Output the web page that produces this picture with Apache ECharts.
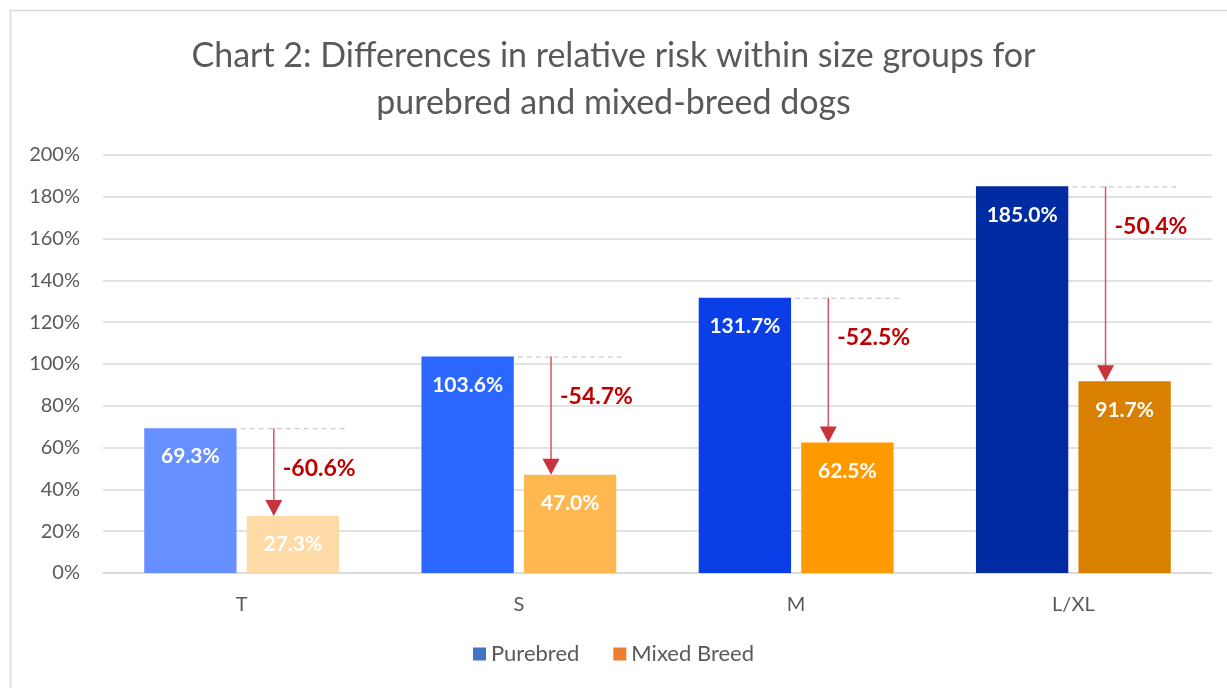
<!DOCTYPE html>
<html>
<head>
<meta charset="utf-8">
<script src="https://cdn.jsdelivr.net/npm/echarts@6/dist/echarts.min.js"></script>
<style>
  html, body { margin: 0; padding: 0; background: #fff; }
  #chart { width: 1227px; height: 688px; }
</style>
</head>
<body>
<div id="chart"></div>
<script>
// chart data
const categories = ['T', 'S', 'M', 'L/XL'];
const purebred = [69.3, 103.6, 131.7, 185.0];
const mixedBreed = [27.3, 47.0, 62.5, 91.7];
const changeLabels = ['-60.6%', '-54.7%', '-52.5%', '-50.4%'];
const yTicks = [0, 20, 40, 60, 80, 100, 120, 140, 160, 180, 200];

// per-bar shades
const pureColors = ['#6690FF', '#2B66FF', '#0A3EE6', '#002BA3'];
const mixedColors = ['#FDDAA6', '#FFB74F', '#FF9900', '#D98000'];

const font = 'Lato, "Open Sans", sans-serif';
const chart = echarts.init(document.getElementById('chart'));

function renderDrop(params, api) {
  const i = api.value(0);
  const top = api.coord([i, api.value(1)]);
  const bot = api.coord([i, api.value(2)]);
  const bw = api.size([1, 0])[0];
  const cx = top[0];
  const ax = cx + bw * 0.116;
  return {
    type: 'group',
    children: [
      {
        type: 'line',
        shape: { x1: cx - 1, y1: top[1] + 0.5, x2: cx + bw * 0.377, y2: top[1] + 0.5 },
        style: { stroke: '#BFBFBF', lineWidth: 1, lineDash: [5, 4] }
      },
      {
        type: 'line',
        shape: { x1: ax, y1: top[1], x2: ax, y2: bot[1] - 14 },
        style: { stroke: '#D9545E', lineWidth: 1.5 }
      },
      {
        type: 'polygon',
        shape: { points: [[ax - 8.5, bot[1] - 16], [ax + 8.5, bot[1] - 16], [ax, bot[1]]] },
        style: { fill: '#C9333D' }
      },
      {
        type: 'text',
        style: {
          x: ax + 9, y: top[1] + 40,
          text: changeLabels[i],
          fill: '#C00000',
          font: 'bold 23px ' + font,
          verticalAlign: 'middle',
          align: 'left'
        }
      }
    ]
  };
}

chart.setOption({
  animation: false,
  title: {
    text: 'Chart 2: Differences in relative risk within size groups for\npurebred and mixed-breed dogs',
    left: 'center',
    top: 28,
    textStyle: { color: '#595959', fontFamily: font, fontSize: 34, fontWeight: 'normal', lineHeight: 47 }
  },
  graphic: [{
    type: 'rect',
    shape: { x: 10.5, y: 10.5, width: 1400, height: 900 },
    style: { fill: 'none', stroke: '#D9D9D9', lineWidth: 1.5 },
    silent: true
  }],
  legend: {
    data: ['Purebred', 'Mixed Breed'],
    bottom: 18,
    left: 'center',
    icon: 'rect',
    itemWidth: 13,
    itemHeight: 13,
    itemGap: 34,
    textStyle: { color: '#595959', fontFamily: font, fontSize: 22 }
  },
  grid: { left: 103, right: 15, top: 155, bottom: 115 },
  xAxis: {
    type: 'category',
    data: categories,
    axisLine: { lineStyle: { color: '#D9D9D9', width: 1.5 } },
    axisTick: { show: false },
    axisLabel: { color: '#595959', fontFamily: font, fontSize: 20, margin: 22 }
  },
  yAxis: {
    type: 'value',
    min: yTicks[0],
    max: yTicks[yTicks.length - 1],
    interval: yTicks[1] - yTicks[0],
    axisLine: { show: false },
    axisTick: { show: false },
    splitLine: { lineStyle: { color: '#D9D9D9', width: 1.5 } },
    axisLabel: { color: '#595959', fontFamily: font, fontSize: 20, margin: 23, formatter: '{value}%' }
  },
  series: [
    {
      name: 'Purebred',
      type: 'bar',
      barWidth: '33.3%',
      barGap: '11%',
      itemStyle: { color: '#4472C4' },
      data: purebred.map((v, i) => ({ value: v, itemStyle: { color: pureColors[i] } })),
      label: {
        show: true, position: 'insideTop', distance: 18,
        color: '#fff', fontFamily: font, fontSize: 21, fontWeight: 'bold',
        formatter: p => p.value.toFixed(1) + '%'
      }
    },
    {
      name: 'Mixed Breed',
      type: 'bar',
      barWidth: '33.3%',
      itemStyle: { color: '#ED7D31' },
      data: mixedBreed.map((v, i) => ({ value: v, itemStyle: { color: mixedColors[i] } })),
      label: {
        show: true, position: 'insideTop', distance: 18,
        color: '#fff', fontFamily: font, fontSize: 21, fontWeight: 'bold',
        formatter: p => p.value.toFixed(1) + '%'
      }
    },
    {
      name: 'drop',
      type: 'custom',
      renderItem: renderDrop,
      encode: { x: 0, y: [1, 2] },
      z: 5,
      silent: true,
      data: categories.map((c, i) => [i, purebred[i], mixedBreed[i]])
    }
  ]
});
</script>
</body>
</html>
